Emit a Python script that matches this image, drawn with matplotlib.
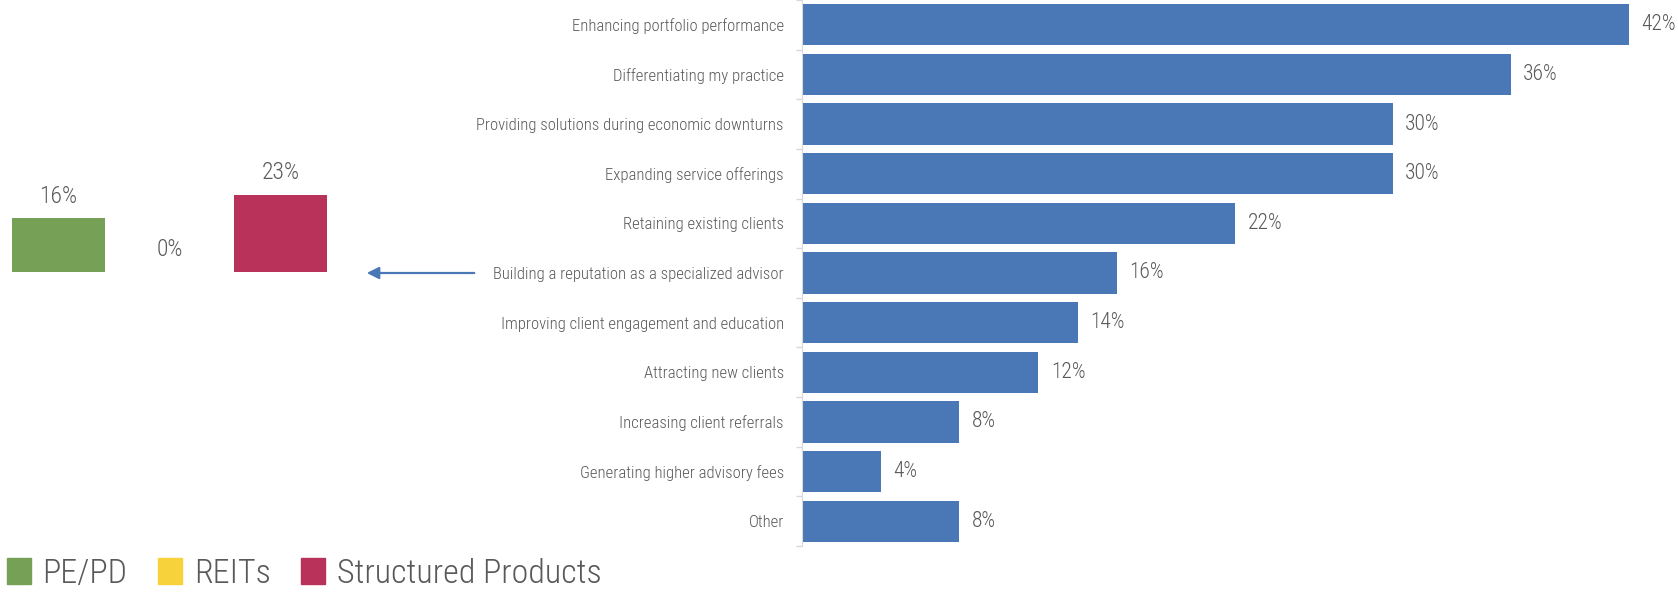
import matplotlib
matplotlib.use("Agg")
import matplotlib.pyplot as plt
from matplotlib import font_manager
from matplotlib.patches import Patch

# survey: reasons for using alternatives (right) and structured-product share (left)
reasons = [
    "Enhancing portfolio performance",
    "Differentiating my practice",
    "Providing solutions during economic downturns",
    "Expanding service offerings",
    "Retaining existing clients",
    "Building a reputation as a specialized advisor",
    "Improving client engagement and education",
    "Attracting new clients",
    "Increasing client referrals",
    "Generating higher advisory fees",
    "Other",
]
reason_pct = [42, 36, 30, 30, 22, 16, 14, 12, 8, 4, 8]

asset_classes = ["PE/PD", "REITs", "Structured Products"]
asset_pct = [16, 0, 23]

BLUE = "#4A77B5"
ASSET_COLORS = ["#76A056", "#F7D23A", "#B8325A"]
TEXT = "#595959"
SPINE = "#D9D9D9"

installed = {f.name for f in font_manager.fontManager.ttflist}
for fam in ["Roboto Condensed", "Liberation Sans Narrow", "Open Sans Condensed", "Roboto"]:
    if fam in installed:
        plt.rcParams["font.family"] = [fam, "DejaVu Sans"]
        break
plt.rcParams["font.weight"] = "light"

W, H = 1678, 592
fig = plt.figure(figsize=(W / 100, H / 100), dpi=100)

# right panel: horizontal bars
ax = fig.add_axes([802 / W, 1 - 546 / H, 876 / W, 546 / H])
y = range(len(reasons))
bars = ax.barh(list(y), reason_pct, height=0.83, color=BLUE)
ax.set_ylim(len(reasons) - 0.5, -0.5)
ax.set_xlim(0, 44.5)
ax.set_yticks(list(y))
ax.set_yticklabels(reasons, fontsize=12, color=TEXT)
ax.tick_params(axis="y", which="major", length=0, pad=13)
ax.set_yticks([i - 0.5 for i in range(len(reasons) + 1)], minor=True)
ax.tick_params(axis="y", which="minor", length=4, color=SPINE, width=1)
ax.set_xticks([])
for s in ["top", "right", "bottom"]:
    ax.spines[s].set_visible(False)
ax.spines["left"].set_color(SPINE)
ax.bar_label(bars, labels=[f"{v}%" for v in reason_pct], padding=9,
             fontsize=15.5, color=TEXT)

# left panel: small column chart
ax2 = fig.add_axes([3 / W, 1 - 272 / H, 333 / W, 122 / H])
cols = ax2.bar(range(len(asset_classes)), asset_pct, width=0.84, color=ASSET_COLORS)
ax2.set_xlim(-0.5, len(asset_classes) - 0.5)
ax2.set_ylim(0, 36.4)
ax2.axis("off")
for rect, v in zip(cols, asset_pct):
    ax2.annotate(f"{v}%", (rect.get_x() + rect.get_width() / 2, v),
                 xytext=(0, 16), textcoords="offset points",
                 ha="center", va="center", fontsize=17, color=TEXT)

# arrow pointing from the reputation row to the left panel
ax.annotate("", xy=(364 / W, 5), xycoords=("figure fraction", "data"),
            xytext=(477 / W, 5), textcoords=("figure fraction", "data"),
            arrowprops=dict(arrowstyle="-|>", color=BLUE, lw=1.6, mutation_scale=18),
            annotation_clip=False)

handles = [Patch(color=c) for c in ASSET_COLORS]
fig.legend(handles, asset_classes, loc="lower left", bbox_to_anchor=(5 / W, 0),
           ncol=3, frameon=False, fontsize=24.5, labelcolor=TEXT,
           handlelength=0.7, handleheight=0.8, handletextpad=0.35,
           columnspacing=0.9, borderpad=0.05, borderaxespad=0.0)

fig.savefig("out.png", dpi=100)
